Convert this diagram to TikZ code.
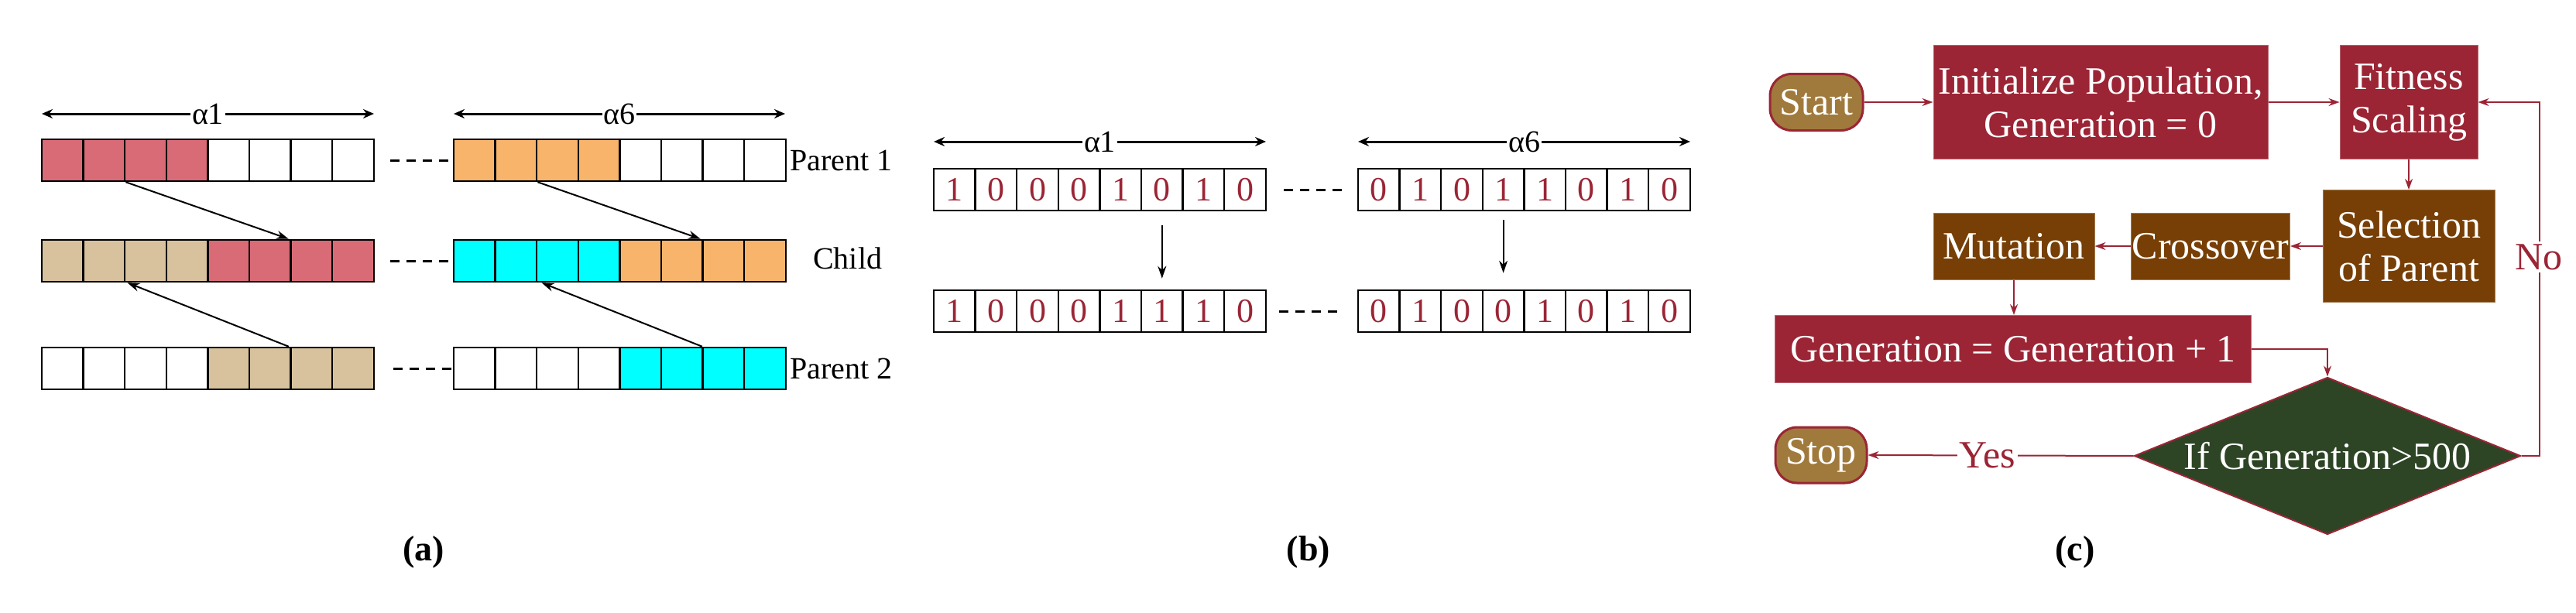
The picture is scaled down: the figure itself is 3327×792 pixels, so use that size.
\documentclass[tikz,border=0pt]{standalone}
\usepackage{fontspec}
\setmainfont{Liberation Serif}
\usetikzlibrary{arrows.meta,shapes.geometric}
\definecolor{pr}{HTML}{D96B77}
\definecolor{po}{HTML}{F9B46C}
\definecolor{pt}{HTML}{D8C29D}
\definecolor{pc}{HTML}{00FFFF}
\definecolor{dred}{HTML}{9B2535}
\definecolor{brn}{HTML}{773F05}
\definecolor{dgrn}{HTML}{2D4525}
\definecolor{gold}{HTML}{A07A3C}
\tikzset{
 cell/.style={draw,line width=2.5pt,minimum width=53.6pt,minimum height=54pt,inner sep=0pt},
 bcell/.style={cell,text=dred,font=\fontsize{44}{44}\selectfont},
 lab/.style={font=\fontsize{40}{40}\selectfont,inner sep=2pt},
 dbl/.style={{Stealth[length=14pt,width=12pt]}-{Stealth[length=14pt,width=12pt]},line width=3pt},
 xarr/.style={-{Stealth[length=16pt,width=11pt]},line width=2pt},
 dsh/.style={line width=3pt,dash pattern=on 12pt off 9pt},
 fc/.style={text=white,font=\fontsize{50}{56}\selectfont,align=center,inner sep=0pt},
 fbox/.style={fc,fill=dred,draw=dred!70,line width=1pt},
 bbox/.style={fc,fill=brn,draw=brn!70,line width=1pt},
 term/.style={fc,fill=gold,draw=dred,line width=3pt,rounded corners=28pt},
 farr/.style={-{Stealth[length=14pt,width=10pt]},draw=dred,line width=2pt},
 flab/.style={fill=white,text=dred,font=\fontsize{50}{50}\selectfont,inner sep=3pt},
 sub/.style={font=\bfseries\fontsize{46}{46}\selectfont}
}
\begin{document}
\begin{tikzpicture}[x=1pt,y=-1pt]
\useasboundingbox (0,0) rectangle (3327,792);
% ---------- panel (a)
\foreach \c [count=\i] in {pr,pr,pr,pr,white,white,white,white}
  \node[cell,fill=\c] (pa-\i) at ({54+53.6*(\i-0.5)},207) {};
\foreach \c [count=\i] in {po,po,po,po,white,white,white,white}
  \node[cell,fill=\c] (pb-\i) at ({586+53.6*(\i-0.5)},207) {};
\foreach \c [count=\i] in {pt,pt,pt,pt,pr,pr,pr,pr}
  \node[cell,fill=\c] (ca-\i) at ({54+53.6*(\i-0.5)},337) {};
\foreach \c [count=\i] in {pc,pc,pc,pc,po,po,po,po}
  \node[cell,fill=\c] (cb-\i) at ({586+53.6*(\i-0.5)},337) {};
\foreach \c [count=\i] in {white,white,white,white,pt,pt,pt,pt}
  \node[cell,fill=\c] (qa-\i) at ({54+53.6*(\i-0.5)},476) {};
\foreach \c [count=\i] in {white,white,white,white,pc,pc,pc,pc}
  \node[cell,fill=\c] (qb-\i) at ({586+53.6*(\i-0.5)},476) {};
\coordinate (aL) at (54,147); \coordinate (aR) at (483,147);
\coordinate (bL) at (586,147); \coordinate (bR) at (1014,147);
\draw[dbl] (aL) -- node[lab,fill=white] {α1} (aR);
\draw[dbl] (bL) -- node[lab,fill=white] {α6} (bR);
\draw[dsh] (pa-8.east) ++(20,0) coordinate (d1) -- ++(76,0) coordinate (d2);
\draw[dsh] (ca-8.east) ++(20,0) coordinate (d3) -- ++(76,0) coordinate (d4);
\draw[dsh] (qa-8.east) ++(24,0) coordinate (d5) -- ++(76,0) coordinate (d6);
\draw[xarr] (pa-2.south east) -- ([xshift=-4pt]ca-6.north east);
\draw[xarr] (pb-2.south east) -- ([xshift=-4pt]cb-6.north east);
\draw[xarr] ([xshift=-4pt]qa-6.north east) -- ([xshift=2pt]ca-2.south east);
\draw[xarr] ([xshift=-2pt]qb-6.north east) -- ([xshift=5pt]cb-2.south east);
\node[lab,anchor=west] (p1) at (1018,207) {Parent 1};
\node[lab,anchor=west] (ch) at (1048,334) {Child};
\node[lab,anchor=west] (p2) at (1018,476) {Parent 2};
\node[sub] (la) at (547,713) {(a)};
% ---------- panel (b)
\foreach \d [count=\i] in {1,0,0,0,1,0,1,0}
  \node[bcell] (ra-\i) at ({1206+53.6*(\i-0.5)},245) {\d};
\foreach \d [count=\i] in {0,1,0,1,1,0,1,0}
  \node[bcell] (rb-\i) at ({1754+53.6*(\i-0.5)},245) {\d};
\foreach \d [count=\i] in {1,0,0,0,1,1,1,0}
  \node[bcell] (sa-\i) at ({1206+53.6*(\i-0.5)},402) {\d};
\foreach \d [count=\i] in {0,1,0,0,1,0,1,0}
  \node[bcell] (sb-\i) at ({1754+53.6*(\i-0.5)},402) {\d};
\coordinate (cL) at (1206,183); \coordinate (cR) at (1635,183);
\coordinate (eL) at (1754,183); \coordinate (eR) at (2183,183);
\draw[dbl] (cL) -- node[lab,fill=white] {α1} (cR);
\draw[dbl] (eL) -- node[lab,fill=white] {α6} (eR);
\draw[dsh] (ra-8.east) ++(22,0) coordinate (d7) -- ++(76,0) coordinate (d8);
\draw[dsh] (sa-8.east) ++(16,0) coordinate (d9) -- ++(76,0) coordinate (d10);
\draw[xarr] ([yshift=-18pt]ra-6.south) -- ([yshift=14pt]sa-6.north);
\draw[xarr] ([yshift=-11pt]rb-4.south) -- ([yshift=21pt]sb-4.north);
\node[sub] (lb) at (1690,713) {(b)};
% ---------- panel (c)
\node[term,minimum width=120pt,minimum height=73pt] (start) at (2346,132) {Start};
\node[fbox,minimum width=432pt,minimum height=146pt] (init) at (2713,132) {Initialize Population,\\Generation = 0};
\node[fbox,minimum width=178pt,minimum height=146pt] (fit) at (3111,132) {Fitness\\Scaling};
\node[bbox,minimum width=222pt,minimum height=145pt] (sel) at (3111,318) {Selection\\of Parent};
\node[bbox,minimum width=205pt,minimum height=86pt] (cross) at (2855,318) {Crossover};
\node[bbox,minimum width=208pt,minimum height=86pt] (mut) at (2601,318) {Mutation};
\node[fbox,minimum width=615pt,minimum height=87pt] (gen) at (2600,451) {Generation = Generation + 1};
\node[fc,diamond,fill=dgrn,draw=dred,line width=2pt,aspect=2.46,minimum width=499pt,minimum height=203pt] (dia) at (3006,589) {If Generation>500};
\node[term,minimum width=118pt,minimum height=72pt] (stop) at (2352,588) {Stop};
\draw[farr] (start) -- (init);
\draw[farr] (init) -- (fit);
\draw[farr] (fit) -- (sel);
\draw[farr] (sel.west) -- (cross.east);
\draw[farr] (cross) -- (mut);
\draw[farr] (mut) -- (gen.north -| mut);
\draw[farr] (gen.east) -| (dia.north);
\draw[farr] (dia.east) -- ++(23,0) coordinate (nc) -- (nc |- fit.east) -- (fit.east);
\node[flab] (no) at (3279,332) {No};
\draw[farr] (dia.west) -- node[flab,pos=0.55] {Yes} (stop.east);
\node[sub] (lc) at (2680,713) {(c)};
\end{tikzpicture}
\end{document}
